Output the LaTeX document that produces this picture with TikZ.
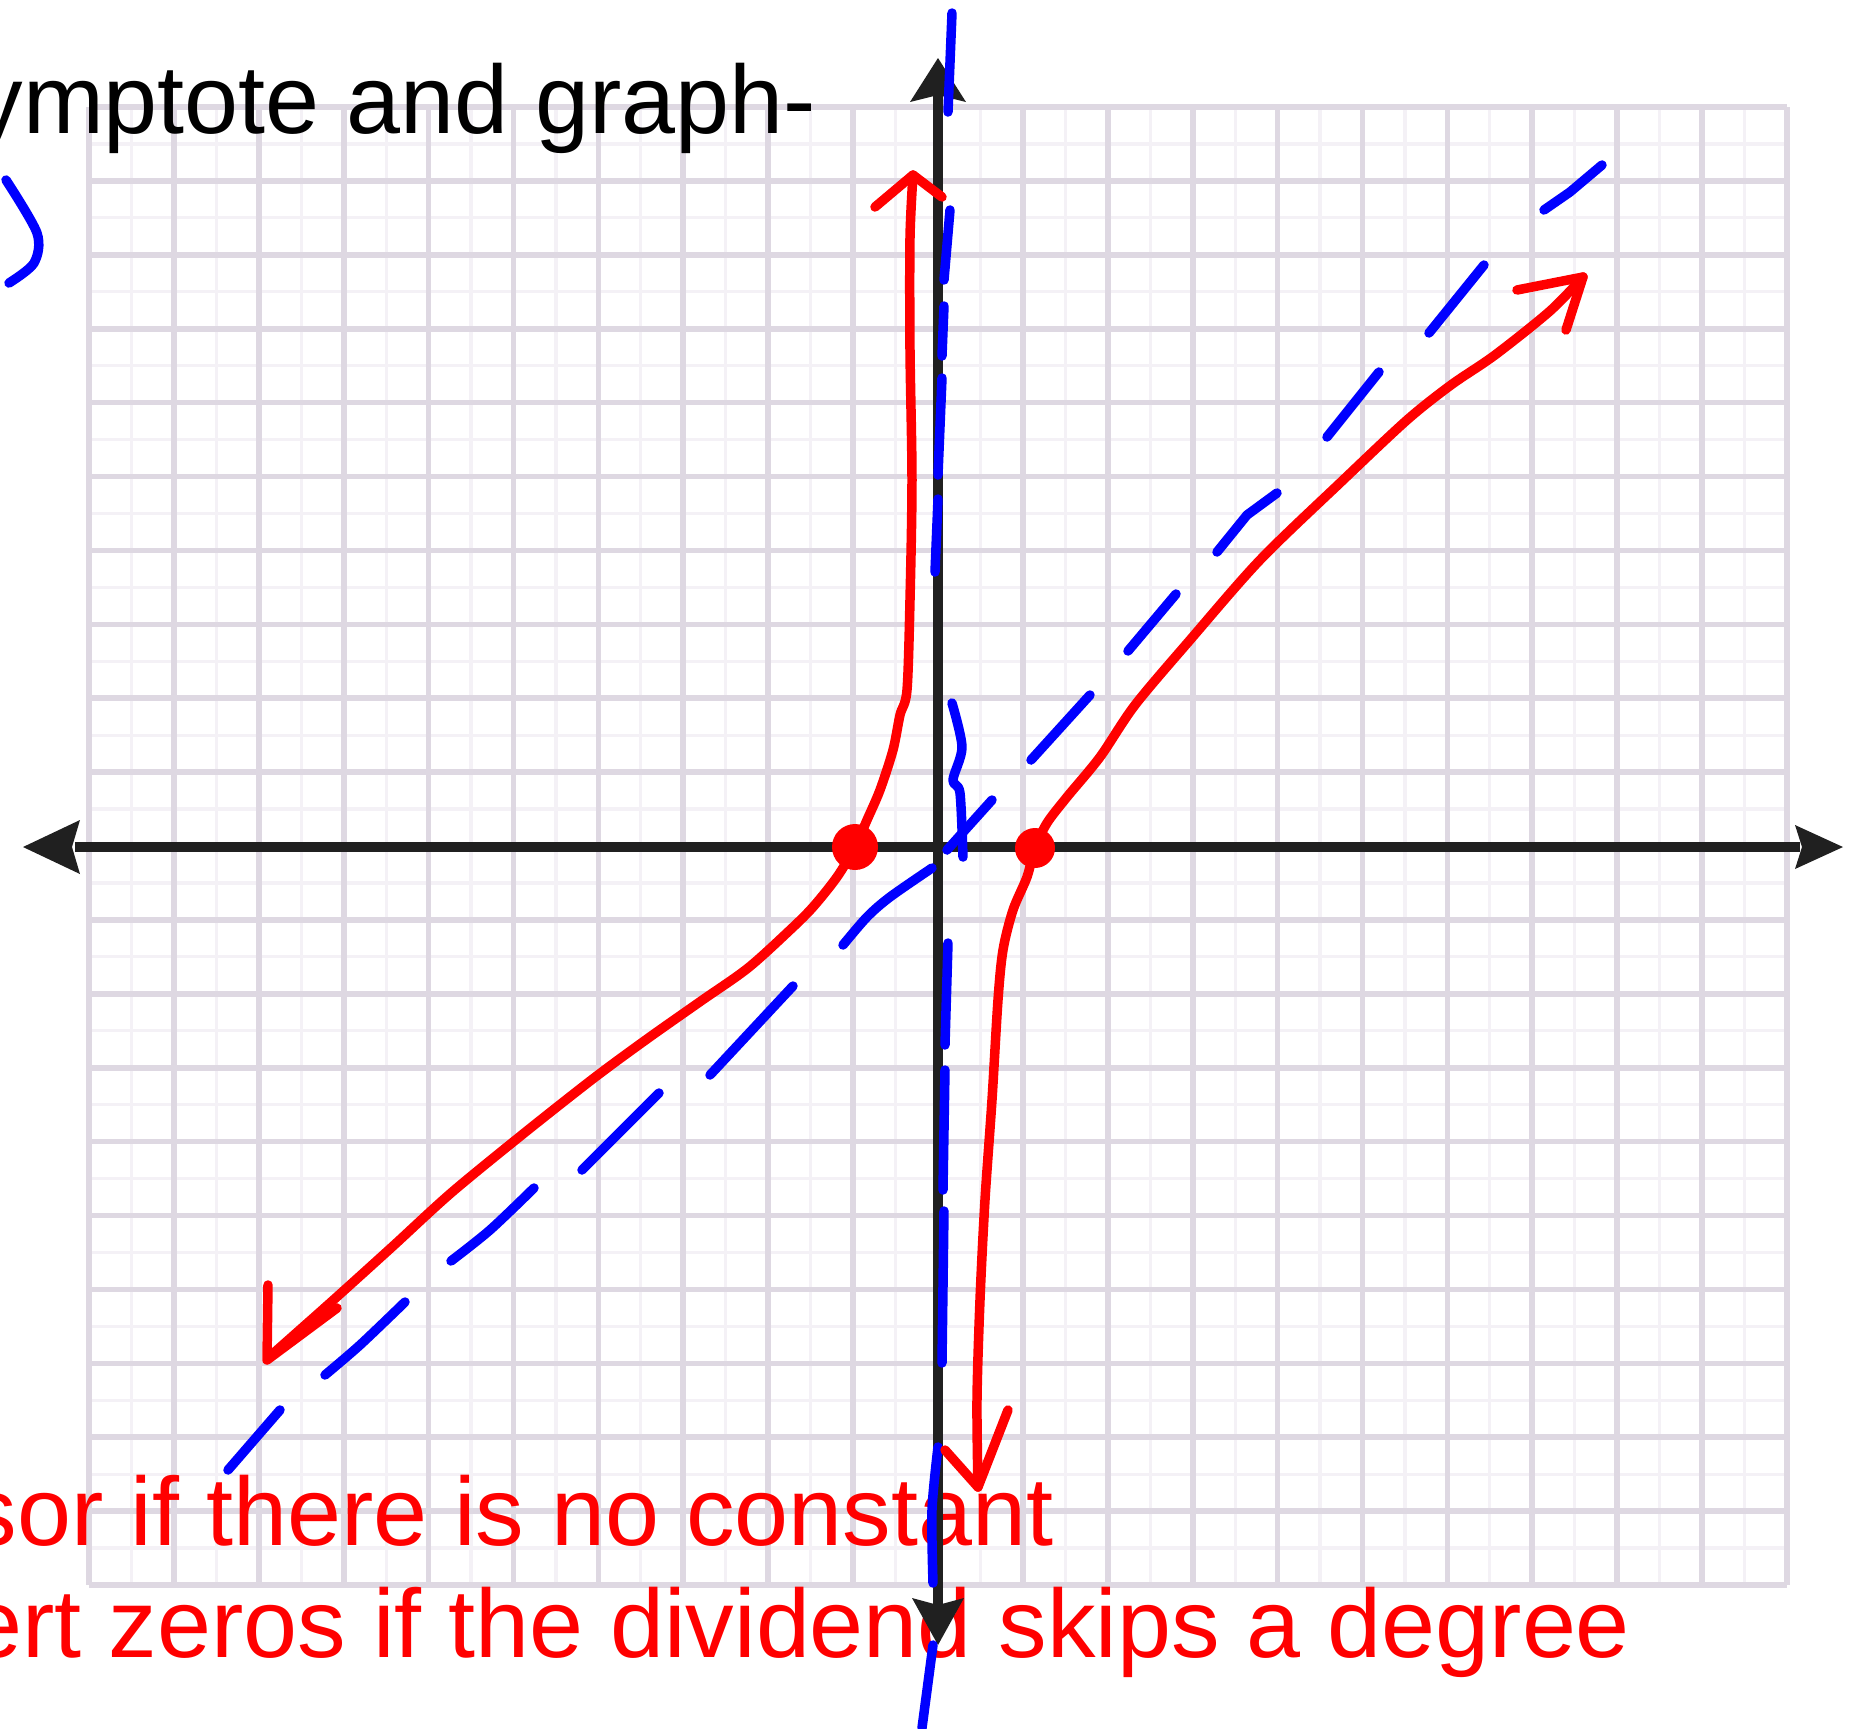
\documentclass[tikz,border=0pt]{standalone}
\usepackage{fontspec}
\setmainfont{Liberation Sans}
\definecolor{gridmaj}{RGB}{222,216,226}
\definecolor{gridmin}{RGB}{244,241,246}
\definecolor{axisc}{RGB}{32,32,32}
\definecolor{pred}{RGB}{255,0,0}
\definecolor{pblue}{RGB}{0,0,255}
\begin{document}
\begin{tikzpicture}[x=0.01cm,y=-0.01cm,
  pen/.style={line width=2.7pt,line cap=round,line join=round},
  redpen/.style={pen,color=pred},
  bluepen/.style={pen,color=pblue},
  axisline/.style={line width=3pt,color=axisc},
  majgrid/.style={line width=1.6pt,color=gridmaj},
  mingrid/.style={line width=0.9pt,color=gridmin},
  txt/.style={inner sep=0pt,anchor=base east,font=\fontsize{27.6}{32}\selectfont}]
\useasboundingbox (0,0) rectangle (1862,1729);
\fill[white] (0,0) rectangle (1862,1729);
% minor grid
\foreach \i in {0,...,19} {
  \draw[mingrid] ({89+(\i+0.5)*84.9},107) -- ({89+(\i+0.5)*84.9},1585);
  \draw[mingrid] (89,{107+(\i+0.5)*73.9}) -- (1787,{107+(\i+0.5)*73.9});
}
% major grid
\foreach \i in {0,...,20} {
  \draw[majgrid] ({89+\i*84.9},107) -- ({89+\i*84.9},1585);
  \draw[majgrid] (89,{107+\i*73.9}) -- (1787,{107+\i*73.9});
}
% texts
\node[txt,text=black] (t1) at (817,133) {ymptote and graph-};
\node[txt,text=pred] (t2) at (1054,1545) {sor if there is no constant};
\node[txt,text=pred] (t3) at (1631,1657) {ert zeros if the dividend skips a degree};
% axes
\draw[axisline] (75,847) -- (1800,847);
\draw[axisline] (938,95) -- (938,1605);
\fill[axisc] (23,847) -- (80,820) -- (72,847) -- (80,874) -- cycle;
\fill[axisc] (1843,847) -- (1795,825) -- (1802,847) -- (1795,869) -- cycle;
\fill[axisc] (938,58) -- (966,102) -- (938,95) -- (910,102) -- cycle;
\fill[axisc] (938,1645) -- (964,1598) -- (938,1605) -- (912,1598) -- cycle;
% blue bracket top-left
\draw[bluepen] plot[smooth,tension=0.5] coordinates {(6,180) (37,233) (34,263) (9,283)};
% blue slant asymptote (hand-drawn dashes)
\draw[bluepen] (1602,165) -- (1570,192) -- (1544,210);
\draw[bluepen] (1484,265) -- (1429,333);
\draw[bluepen] (1379,372) -- (1327,437);
\draw[bluepen] (1277,493) -- (1247,515) -- (1217,552);
\draw[bluepen] (1176,594) -- (1128,651);
\draw[bluepen] (1090,695) -- (1031,760);
\draw[bluepen] (992,800) -- (947,850);
\draw[bluepen] plot[smooth] coordinates {(932,868) (890,897) (867,917) (843,945)};
\draw[bluepen] (793,986) -- (710,1075);
\draw[bluepen] (659,1093) -- (582,1170);
\draw[bluepen] plot[smooth] coordinates {(534,1188) (490,1230) (451,1261)};
\draw[bluepen] plot[smooth] coordinates {(405,1302) (360,1345) (325,1375)};
\draw[bluepen] (280,1410) -- (228,1470);
% blue vertical asymptote (hand-drawn dashes)
\draw[bluepen] (952,13) -- (948,112);
\draw[bluepen] (950,210) -- (944,280);
\draw[bluepen] (944,306) -- (942,356);
\draw[bluepen] (942,378) -- (938,475);
\draw[bluepen] (938,499) -- (935,572);
\draw[bluepen] plot[smooth,tension=0.5] coordinates {(952,703) (962,747) (953,780) (960,793) (963,857)};
\draw[bluepen] (948,943) -- (945,1045);
\draw[bluepen] (945,1070) -- (943,1190);
\draw[bluepen] (944,1211) -- (942,1363);
\draw[bluepen] plot[smooth] coordinates {(938,1447) (932,1510) (933,1583)};
\draw[bluepen] (933,1645) -- (922,1728);
% red curve, left branch
\draw[redpen] plot[smooth,tension=0.5] coordinates {(913,175) (910,238) (910,350) (912,480) (910,600) (907,690) (900,715) (893,750) (880,790) (867,820) (855,847) (837,877) (813,907) (790,930) (748,968) (701,1001) (647,1039) (594,1078) (523,1134) (451,1193) (392,1247) (330,1303) (268,1358)};
\draw[redpen] (875,207) -- (913,175) -- (942,197);
\draw[redpen] (268,1285) -- (267,1360) -- (337,1308);
% red curve, right branch
\draw[redpen] plot[smooth,tension=0.5] coordinates {(1583,277) (1550,311) (1495,355) (1451,385) (1407,420) (1341,482) (1260,560) (1190,640) (1135,705) (1100,757) (1067,797) (1047,823) (1035,848) (1027,877) (1013,910) (1003,950) (998,1000) (992,1100) (985,1200) (980,1300) (977,1400) (978,1487)};
\draw[redpen] (1517,290) -- (1583,277) -- (1566,330);
\draw[redpen] (945,1450) -- (978,1487) -- (1008,1410);
% intercept dots
\fill[pred] (855,847) circle (23);
\fill[pred] (1035,848) circle (20);
\end{tikzpicture}
\end{document}
